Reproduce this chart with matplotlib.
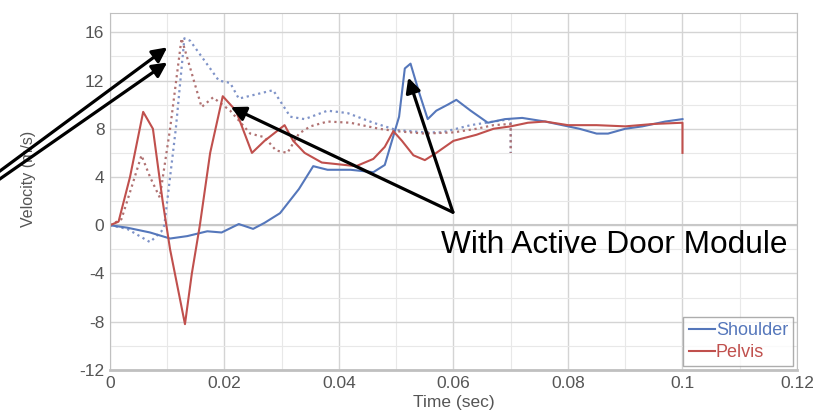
import matplotlib.pyplot as plt
import numpy as np

plt.rcParams['font.family'] = ['Liberation Sans', 'DejaVu Sans']
plt.rcParams['axes.unicode_minus'] = False

# shoulder, with active door module (solid)
t_sh = [0, 0.003, 0.007, 0.0105, 0.0135, 0.017, 0.0195, 0.0225, 0.025, 0.027, 0.0297,
        0.033, 0.0355, 0.038, 0.042, 0.046, 0.048, 0.0505, 0.0515, 0.0525, 0.054, 0.0555,
        0.057, 0.059, 0.0605, 0.063, 0.066, 0.069, 0.072, 0.076, 0.079, 0.082, 0.085,
        0.087, 0.09, 0.093, 0.097, 0.1]
v_sh = [0, -0.2, -0.6, -1.1, -0.9, -0.5, -0.6, 0.1, -0.3, 0.2, 1.0,
        3.0, 4.9, 4.6, 4.6, 4.4, 5.0, 9.0, 13.0, 13.4, 11.0, 8.8,
        9.5, 10.0, 10.4, 9.5, 8.5, 8.8, 8.9, 8.6, 8.3, 8.0, 7.6,
        7.6, 8.0, 8.2, 8.6, 8.8]

# pelvis, with active door module (solid)
t_pe = [0, 0.0015, 0.0035, 0.0058, 0.0075, 0.0092, 0.0105, 0.0131, 0.0143, 0.0157,
        0.0175, 0.0197, 0.022, 0.0248, 0.027, 0.0305, 0.032, 0.034, 0.037, 0.043,
        0.046, 0.048, 0.0495, 0.051, 0.053, 0.055, 0.057, 0.060, 0.064, 0.067, 0.070,
        0.073, 0.076, 0.080, 0.085, 0.090, 0.095, 0.1, 0.1]
v_pe = [0, 0.3, 4.0, 9.4, 8.0, 2.0, -2.0, -8.2, -4.0, 0.0,
        6.0, 10.7, 9.5, 6.0, 7.0, 8.3, 7.0, 6.0, 5.2, 4.9,
        5.5, 6.5, 7.8, 7.0, 5.8, 5.4, 6.0, 7.0, 7.5, 8.0, 8.2,
        8.5, 8.6, 8.3, 8.3, 8.2, 8.4, 8.5, 6.0]

# baseline shoulder (dotted)
t_sh0 = [0, 0.003, 0.007, 0.009, 0.0095, 0.0115, 0.013, 0.014, 0.0175, 0.019, 0.021,
         0.0225, 0.0285, 0.0315, 0.034, 0.038, 0.0415, 0.046, 0.050, 0.055, 0.058,
         0.063, 0.067, 0.070, 0.070]
v_sh0 = [0, -0.3, -1.4, -0.5, 0, 8.0, 15.5, 15.3, 13.0, 12.0, 11.8,
         10.5, 11.2, 9.0, 8.8, 9.5, 9.3, 8.5, 7.9, 7.7, 7.7,
         8.3, 8.6, 8.8, 6.0]

# baseline pelvis (dotted)
t_pe0 = [0, 0.002, 0.004, 0.0055, 0.007, 0.0087, 0.0105, 0.0125, 0.016, 0.018, 0.021,
         0.0245, 0.027, 0.029, 0.031, 0.033, 0.035, 0.038, 0.042, 0.047, 0.050,
         0.055, 0.060, 0.064, 0.067, 0.070, 0.070]
v_pe0 = [0, 0.5, 3.5, 5.8, 4.0, 2.3, 8.0, 15.5, 9.8, 10.6, 9.5,
         7.6, 7.3, 6.2, 6.0, 7.6, 8.2, 8.6, 8.5, 8.0, 7.8,
         7.6, 7.7, 8.0, 8.3, 8.4, 6.0]

blue = '#5577bb'
red = '#c0504d'

fig = plt.figure(figsize=(8.17, 4.19), dpi=100)
ax = fig.add_axes([0.1346, 0.117, 0.8409, 0.852])

ax.plot(t_sh0, v_sh0, color='#7f93c8', lw=1.6, ls=':')
ax.plot(t_pe0, v_pe0, color='#b07272', lw=1.6, ls=':')
ax.plot(t_sh, v_sh, color=blue, lw=1.5, label='Shoulder')
ax.plot(t_pe, v_pe, color=red, lw=1.5, label='Pelvis')

ax.set_xlim(0, 0.12)
ax.set_ylim(-12, 17.6)
ax.set_xticks([0, 0.02, 0.04, 0.06, 0.08, 0.1, 0.12])
ax.set_xticklabels(['0', '0.02', '0.04', '0.06', '0.08', '0.1', '0.12'])
ax.set_yticks([-12, -8, -4, 0, 4, 8, 12, 16])
ax.set_xticks(np.arange(0.01, 0.12, 0.02), minor=True)
ax.set_yticks(np.arange(-10, 17, 4), minor=True)
ax.grid(True, which='major', color='#d4d4d4', lw=1.0)
ax.grid(True, which='minor', color='#e8e8e8', lw=0.8)
ax.axhline(0, color='#c8c8c8', lw=1.5, zorder=1)
ax.set_axisbelow(True)
ax.tick_params(which='both', length=0, labelsize=12.5, colors='#555555', pad=4)
for s in ax.spines.values():
    s.set_color('#c0c0c0')
ax.spines['bottom'].set_linewidth(2)

ax.set_xlabel('Time (sec)', fontsize=12.5, color='#555555', labelpad=3)
ax.set_ylabel('Velocity (m/s)', fontsize=11.5, color='#555555')
ax.yaxis.set_label_coords(-0.108, 0.536)

leg = ax.legend(loc='lower right', fontsize=13, handlelength=1.45, handletextpad=0.05,
                labelspacing=0.25, borderpad=0.3, borderaxespad=0.2, fancybox=False,
                labelcolor='linecolor')
leg.get_frame().set_edgecolor('#999999')
leg.get_frame().set_linewidth(1)

ax.text(0.0578, -2.3, 'With Active Door Module', fontsize=22.8, color='black', va='baseline')

ap = dict(arrowstyle='-|>', lw=2.3, color='black', mutation_scale=22, shrinkA=0, shrinkB=0)
ax.annotate('', xy=(0.0521, 12.25), xytext=(0.0599, 1.08), arrowprops=ap)
ax.annotate('', xy=(0.0211, 9.8), xytext=(0.0599, 1.08), arrowprops=ap)
ax.annotate('', xy=(0.0100, 14.75), xytext=(-0.0195, 4.4), arrowprops=ap, annotation_clip=False)
ax.annotate('', xy=(0.0100, 13.5), xytext=(-0.0195, 3.75), arrowprops=ap, annotation_clip=False)

fig.savefig('out.png', dpi=100)
